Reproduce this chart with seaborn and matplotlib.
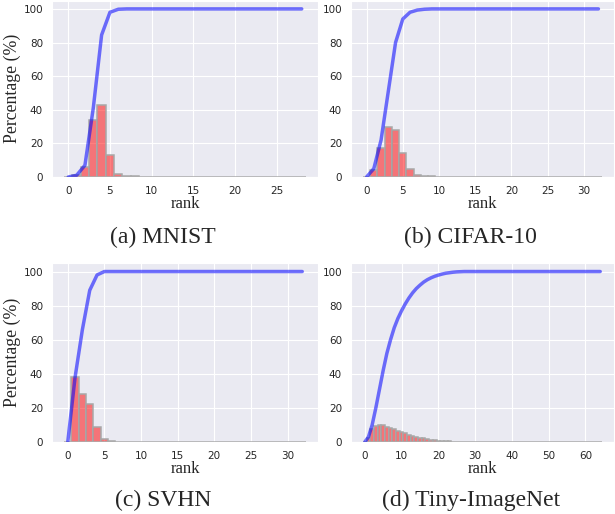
import matplotlib
matplotlib.use("Agg")
import matplotlib.pyplot as plt
import numpy as np
import seaborn as sns

sns.set_style("darkgrid")

# ── Data (percent per rank, cumulative percent) ──
mnist_rank = np.arange(0, 29)
mnist_pct = [0, 1, 6, 34, 43, 13, 2, 0.6, 0.3, 0.1, 0.05] + [0] * 18
mnist_cum = [0, 1, 7, 41, 84.5, 98, 99.8, 100] + [100] * 21

cifar_rank = np.arange(0, 33)
cifar_pct = [0, 4, 17, 30, 28, 14, 4.5, 1.3, 0.6, 0.4, 0.2, 0.1, 0.05] + [0] * 20
cifar_cum = [0, 5, 22, 51, 80, 94, 98, 99.3, 99.8, 100] + [100] * 23

svhn_rank = np.arange(0, 33)
svhn_pct = [0, 38, 28, 22, 9, 2, 0.3, 0.1] + [0] * 25
svhn_cum = [0, 38, 66, 89, 98, 100] + [100] * 27

tiny_rank = np.arange(0, 65)
tiny_pct = [0, 2.5, 7.5, 9.5, 10.2, 9.8, 9.0, 8.3, 7.4, 6.6, 5.8, 5.0, 4.3,
            3.7, 3.1, 2.6, 2.1, 1.7, 1.4, 1.1, 0.85, 0.65, 0.5, 0.35, 0.25,
            0.18, 0.12, 0.08, 0.05] + [0] * 36
tiny_cum = [0, 3, 10, 20, 31, 42, 52, 60, 67, 72.5, 77, 81, 84.5, 87.5, 90,
            92, 93.8, 95.2, 96.3, 97.2, 97.9, 98.5, 99, 99.3, 99.6, 99.8,
            99.9] + [100] * 38

captions = ["(a) MNIST", "(b) CIFAR-10", "(c) SVHN", "(d) Tiny-ImageNet"]
panels = [
    (mnist_rank, mnist_pct, mnist_cum, 5),
    (cifar_rank, cifar_pct, cifar_cum, 5),
    (svhn_rank, svhn_pct, svhn_cum, 5),
    (tiny_rank, tiny_pct, tiny_cum, 10),
]

W, H = 615, 514
fig = plt.figure(figsize=(W / 100, H / 100), dpi=100)

# axes boxes in pixels: left, top, right, bottom
boxes = [(52, 0.5, 318, 177), (351, 0.5, 614, 177),
         (52, 263, 318, 442), (351, 263, 614, 442)]
cap_pos = [(163, 237), (470, 237), (163, 500), (471, 500)]
serif = "Liberation Serif"

for i, (rank, pct, cum, step) in enumerate(panels):
    l, t, r, b = boxes[i]
    ax = fig.add_axes([l / W, 1 - b / H, (r - l) / W, (b - t) / H])
    sns.histplot(x=rank, weights=pct, discrete=True, color="red", alpha=0.5,
                 edgecolor="#a8a8a8", linewidth=1.1, ax=ax)
    sns.lineplot(x=rank, y=cum, color="blue", alpha=0.55, linewidth=2.5, ax=ax)
    ax.set_yticks([0, 20, 40, 60, 80, 100])
    ax.set_xticks(np.arange(0, rank[-1] + 1, step))
    ax.tick_params(labelsize=7.5, pad=3, colors=".15")
    ax.set_xlabel("rank", fontfamily=serif, fontsize=12, labelpad=0)
    if i % 2 == 0:
        ax.set_ylabel("Percentage (%)", fontfamily=serif, fontsize=12.8,
                      labelpad=2)
    else:
        ax.set_ylabel("")
    cx, cy = cap_pos[i]
    fig.text(cx / W, 1 - cy / H, captions[i], ha="center", va="center",
             fontfamily=serif, fontsize=17)

fig.savefig("out.png", dpi=100)
